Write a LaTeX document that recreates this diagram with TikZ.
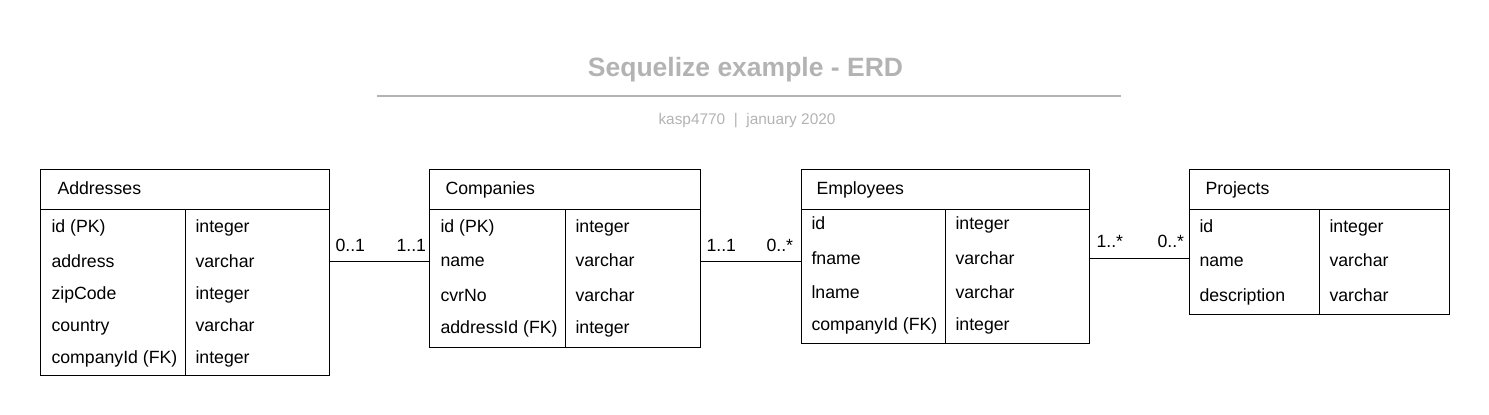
\documentclass[tikz,border=0pt]{standalone}
\usepackage{fontspec}
\setmainfont{Liberation Sans}
\usetikzlibrary{positioning}
\definecolor{erdgray}{HTML}{B3B3B3}

\begin{document}
\begin{tikzpicture}[x=1pt,y=-1pt,line width=1pt,
  every node/.style={inner sep=0pt,font=\fontsize{17.7}{21}\selectfont},
  tbl/.style={draw,anchor=north west},
  fld/.style={anchor=base west},
  mult/.style={anchor=base west}]
\useasboundingbox (0,0) rectangle (1489,415);

% title block
\node[font=\bfseries\fontsize{26.5}{31}\selectfont,text=erdgray,anchor=base] (title) at (745.5,76) {Sequelize example - ERD};
\draw[erdgray,line width=2pt] (377,96) -- (1121,96);
\node[font=\fontsize{15.4}{18}\selectfont,text=erdgray,anchor=base] (sub) at (747,124) {kasp4770\ \ |\ \ january 2020};

% Addresses
\node[tbl,minimum width=289pt,minimum height=206pt] (addr) at (40,169) {};
\draw (40,209) -- (329,209);
\draw (185,209) -- (185,375);
\node[fld] (addr-h) at (57,194) {Addresses};
\node[fld] (addr-id) at (51,232.5) {id (PK)};
\node[fld] (addr-address) at (51,267.5) {address};
\node[fld] (addr-zip) at (51,299.5) {zipCode};
\node[fld] (addr-country) at (51,331.5) {country};
\node[fld] (addr-comp) at (51,363.5) {companyId (FK)};
\node[fld] (addr-id-t) at (195,232.5) {integer};
\node[fld] (addr-address-t) at (195,267.5) {varchar};
\node[fld] (addr-zip-t) at (195,299.5) {integer};
\node[fld] (addr-country-t) at (195,331.5) {varchar};
\node[fld] (addr-comp-t) at (195,363.5) {integer};

% Companies
\node[tbl,minimum width=271pt,minimum height=178pt] (comp) at (429,169) {};
\draw (429,209) -- (700,209);
\draw (565,209) -- (565,347);
\node[fld] (comp-h) at (445,194) {Companies};
\node[fld] (comp-id) at (440,232.5) {id (PK)};
\node[fld] (comp-name) at (440,266.5) {name};
\node[fld] (comp-cvr) at (440,301.5) {cvrNo};
\node[fld] (comp-addr) at (440,333.5) {addressId (FK)};
\node[fld] (comp-id-t) at (575,232.5) {integer};
\node[fld] (comp-name-t) at (575,266.5) {varchar};
\node[fld] (comp-cvr-t) at (575,301.5) {varchar};
\node[fld] (comp-addr-t) at (575,333.5) {integer};

% Employees
\node[tbl,minimum width=288pt,minimum height=174pt] (emp) at (801,169) {};
\draw (801,209) -- (1089,209);
\draw (945,209) -- (945,343);
\node[fld] (emp-h) at (816,194) {Employees};
\node[fld] (emp-id) at (811,229) {id};
\node[fld] (emp-fname) at (811,264.5) {fname};
\node[fld] (emp-lname) at (811,298.5) {lname};
\node[fld] (emp-comp) at (811,330.5) {companyId (FK)};
\node[fld] (emp-id-t) at (955,229) {integer};
\node[fld] (emp-fname-t) at (955,264.5) {varchar};
\node[fld] (emp-lname-t) at (955,298.5) {varchar};
\node[fld] (emp-comp-t) at (955,330.5) {integer};

% Projects
\node[tbl,minimum width=260pt,minimum height=145pt] (proj) at (1189,169) {};
\draw (1189,209) -- (1449,209);
\draw (1319,209) -- (1319,314);
\node[fld] (proj-h) at (1205,194) {Projects};
\node[fld] (proj-id) at (1199,232.5) {id};
\node[fld] (proj-name) at (1199,266.5) {name};
\node[fld] (proj-desc) at (1199,301.5) {description};
\node[fld] (proj-id-t) at (1329,232.5) {integer};
\node[fld] (proj-name-t) at (1329,266.5) {varchar};
\node[fld] (proj-desc-t) at (1329,301.5) {varchar};

% relations
\draw (addr.east |- comp-name) -- (comp.west |- comp-name);
\draw (comp.east |- comp-name) -- (emp.west |- comp-name);
\draw (emp.east |- emp-fname) -- (proj.west |- emp-fname);
\node[mult] (m1) at (335,251) {0..1};
\node[mult] (m2) at (396,251) {1..1};
\node[mult] (m3) at (706,251) {1..1};
\node[mult] (m4) at (766,251) {0..*};
\node[mult] (m5) at (1096,247.5) {1..*};
\node[mult] (m6) at (1157,247.5) {0..*};
\end{tikzpicture}
\end{document}
